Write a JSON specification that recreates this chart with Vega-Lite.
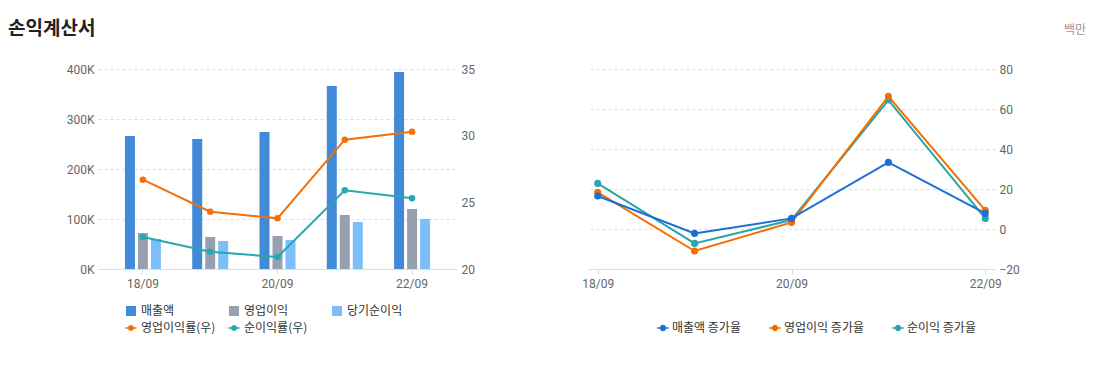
{
  "$schema": "https://vega.github.io/schema/vega-lite/v6.json",
  "background": "white",
  "padding": {"top": 20, "left": 8, "right": 16, "bottom": 5},
  "bounds": "flush",
  "spacing": 131,
  "resolve": {"scale": {"color": "independent"}, "legend": {"color": "independent"}},
  "config": {
    "view": {"stroke": null},
    "axis": {"labelFont": "Roboto", "labelFontSize": 12, "labelColor": "#666666", "title": null, "gridColor": "#dddddd", "gridDash": [3, 3], "domainColor": "#dddddd", "tickColor": "#dddddd"},
    "legend": {"labelFont": "Noto Sans CJK KR", "labelFontSize": 12, "labelColor": "#333333", "title": null}
  },
  "hconcat": [
    {
      "width": 359,
      "height": 200,
      "title": {"text": "손익계산서", "anchor": "start", "frame": "bounds", "font": "Noto Sans CJK KR", "fontSize": 19, "fontWeight": "bold", "color": "#222222", "baseline": "alphabetic", "offset": 9},
      "layer": [
        {
          "data": {"values": [
            {"year": "18/09", "series": "매출액", "value": 266000},
            {"year": "18/09", "series": "영업이익", "value": 72000},
            {"year": "18/09", "series": "당기순이익", "value": 60000},
            {"year": "19/09", "series": "매출액", "value": 260000},
            {"year": "19/09", "series": "영업이익", "value": 64000},
            {"year": "19/09", "series": "당기순이익", "value": 56000},
            {"year": "20/09", "series": "매출액", "value": 274000},
            {"year": "20/09", "series": "영업이익", "value": 66000},
            {"year": "20/09", "series": "당기순이익", "value": 58000},
            {"year": "21/09", "series": "매출액", "value": 366000},
            {"year": "21/09", "series": "영업이익", "value": 108000},
            {"year": "21/09", "series": "당기순이익", "value": 94000},
            {"year": "22/09", "series": "매출액", "value": 394000},
            {"year": "22/09", "series": "영업이익", "value": 120000},
            {"year": "22/09", "series": "당기순이익", "value": 100000}
          ]},
          "mark": {"type": "bar"},
          "encoding": {
            "x": {"field": "year", "type": "ordinal", "sort": null,
                  "scale": {"paddingInner": 0.465, "paddingOuter": 0.4},
                  "axis": {"values": ["18/09", "20/09", "22/09"], "labelAngle": 0, "tickSize": 5, "labelPadding": 4, "grid": false}},
            "xOffset": {"field": "series", "type": "nominal", "sort": ["매출액", "영업이익", "당기순이익"],
                        "scale": {"paddingInner": 0.23, "paddingOuter": 0}},
            "y": {"field": "value", "type": "quantitative",
                  "scale": {"domain": [0, 400000]},
                  "axis": {"values": [0, 100000, 200000, 300000, 400000], "labelExpr": "datum.value / 1000 + 'K'", "domain": false, "ticks": false, "labelPadding": 4, "minExtent": 90}},
            "color": {"field": "series", "type": "nominal",
                      "scale": {"domain": ["매출액", "영업이익", "당기순이익", "영업이익률(우)", "순이익률(우)"],
                                "range": ["#418ad9", "#97a0b1", "#7cbef7", "#f26f0a", "#25a8b0"]},
                      "legend": {"orient": "none", "legendX": 27, "legendY": 236, "direction": "horizontal", "columns": 3, "gridAlign": "all",
                                 "columnPadding": 12, "rowPadding": 5, "symbolSize": 100, "symbolOffset": 0, "labelOffset": 4,
                                 "encode": {"symbols": {"update": {
                                   "shape": {"signal": "(datum.value == '영업이익률(우)' || datum.value == '순이익률(우)') ? 'M-1.1,-0.15H1.1V0.15H-1.1Z M0.6,0A0.6,0.6,0,1,1,-0.6,0A0.6,0.6,0,1,1,0.6,0Z' : 'square'"},
                                   "fill": {"scale": "color", "field": "value"},
                                   "fillOpacity": {"value": 1},
                                   "strokeWidth": {"value": 0}}}}}}
          }
        },
        {
          "data": {"values": [
            {"year": "18/09", "series": "영업이익률(우)", "rate": 26.7},
            {"year": "19/09", "series": "영업이익률(우)", "rate": 24.3},
            {"year": "20/09", "series": "영업이익률(우)", "rate": 23.8},
            {"year": "21/09", "series": "영업이익률(우)", "rate": 29.7},
            {"year": "22/09", "series": "영업이익률(우)", "rate": 30.3},
            {"year": "18/09", "series": "순이익률(우)", "rate": 22.4},
            {"year": "19/09", "series": "순이익률(우)", "rate": 21.3},
            {"year": "20/09", "series": "순이익률(우)", "rate": 20.9},
            {"year": "21/09", "series": "순이익률(우)", "rate": 25.9},
            {"year": "22/09", "series": "순이익률(우)", "rate": 25.3}
          ]},
          "mark": {"type": "line", "strokeWidth": 2, "point": {"filled": true, "size": 42}},
          "encoding": {
            "x": {"field": "year", "type": "ordinal", "sort": null},
            "y": {"field": "rate", "type": "quantitative",
                  "scale": {"domain": [20, 35]},
                  "axis": {"orient": "right", "values": [20, 25, 30, 35], "grid": false, "domain": false, "ticks": false, "labelPadding": 4, "minExtent": 30}},
            "color": {"field": "series", "type": "nominal"}
          }
        }
      ],
      "resolve": {"scale": {"y": "independent"}}
    },
    {
      "width": 407,
      "height": 200,
      "title": {"text": "백만", "anchor": "end", "frame": "bounds", "font": "Noto Sans CJK KR", "fontSize": 12, "fontWeight": "normal", "color": "#a89090", "baseline": "alphabetic", "offset": 17},
      "data": {"values": [
        {"year": "18/09", "series": "순이익 증가율", "growth": 22.8},
        {"year": "19/09", "series": "순이익 증가율", "growth": -7.2},
        {"year": "20/09", "series": "순이익 증가율", "growth": 4.5},
        {"year": "21/09", "series": "순이익 증가율", "growth": 64.5},
        {"year": "22/09", "series": "순이익 증가율", "growth": 5.3},
        {"year": "18/09", "series": "영업이익 증가율", "growth": 18.3},
        {"year": "19/09", "series": "영업이익 증가율", "growth": -11.0},
        {"year": "20/09", "series": "영업이익 증가율", "growth": 3.3},
        {"year": "21/09", "series": "영업이익 증가율", "growth": 66.3},
        {"year": "22/09", "series": "영업이익 증가율", "growth": 9.3},
        {"year": "18/09", "series": "매출액 증가율", "growth": 16.5},
        {"year": "19/09", "series": "매출액 증가율", "growth": -2.2},
        {"year": "20/09", "series": "매출액 증가율", "growth": 5.3},
        {"year": "21/09", "series": "매출액 증가율", "growth": 33.3},
        {"year": "22/09", "series": "매출액 증가율", "growth": 7.8}
      ]},
      "mark": {"type": "line", "strokeWidth": 2, "point": {"filled": true, "size": 50}},
      "encoding": {
        "x": {"field": "year", "type": "ordinal", "sort": ["18/09", "19/09", "20/09", "21/09", "22/09"],
              "scale": {"type": "point", "padding": 0.1},
              "axis": {"values": ["18/09", "20/09", "22/09"], "labelAngle": 0, "tickSize": 5, "labelPadding": 4, "grid": false}},
        "y": {"field": "growth", "type": "quantitative",
              "scale": {"domain": [-20, 80]},
              "axis": {"orient": "right", "values": [-20, 0, 20, 40, 60, 80], "grid": true, "domain": false, "ticks": false, "labelPadding": 4, "minExtent": 91}},
        "color": {"field": "series", "type": "nominal",
                  "scale": {"domain": ["매출액 증가율", "영업이익 증가율", "순이익 증가율"], "range": ["#1b6fd6", "#f46f00", "#2ba5aa"]},
                  "legend": {"orient": "none", "legendX": 69, "legendY": 253, "direction": "horizontal", "columnPadding": 28, "symbolSize": 110, "labelOffset": 3,
                             "symbolType": "M-1.1,-0.15H1.1V0.15H-1.1Z M0.6,0A0.6,0.6,0,1,1,-0.6,0A0.6,0.6,0,1,1,0.6,0Z",
                             "encode": {"symbols": {"update": {
                               "fill": {"scale": "color", "field": "value"},
                               "fillOpacity": {"value": 1},
                               "strokeWidth": {"value": 0}}}}}}
      }
    }
  ]
}
